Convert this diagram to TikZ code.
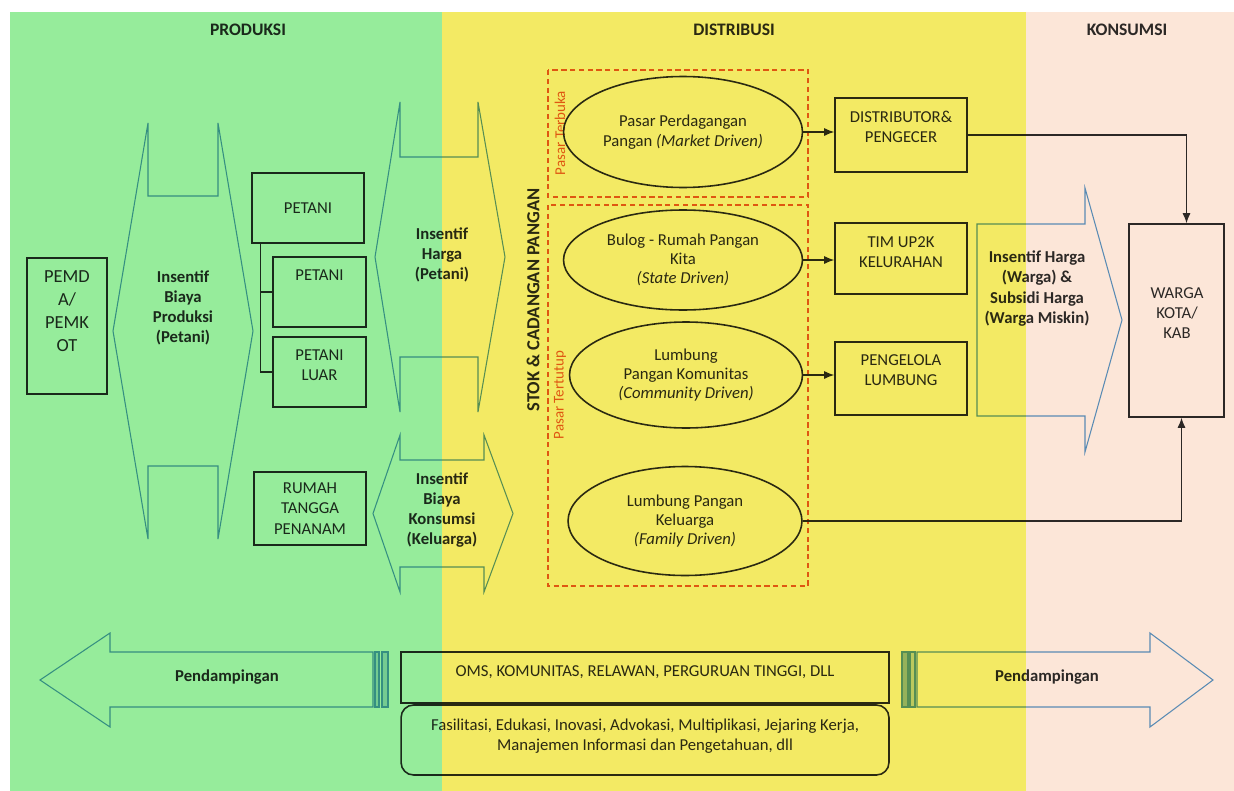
\documentclass[tikz,border=0pt]{standalone}
\usepackage{fontspec}
\setmainfont{Carlito}
\usetikzlibrary{shapes.geometric,arrows.meta,positioning}

\definecolor{bandgreen}{RGB}{150,236,155}
\definecolor{bandyellow}{RGB}{243,234,100}
\definecolor{bandpeach}{RGB}{252,230,216}
\definecolor{inkgray}{RGB}{45,45,45}
\definecolor{arrowblue}{RGB}{91,155,213}
\definecolor{pasarred}{RGB}{235,95,45}

\tikzset{
  box/.style={draw=inkgray, line width=0.9pt, inner sep=0pt, align=center,
    text=inkgray, font=\fontsize{9.5}{11.5}\selectfont},
  oval/.style={ellipse, draw=inkgray, line width=0.9pt, inner sep=0pt, align=center,
    text=inkgray, font=\fontsize{9.5}{11}\selectfont},
  lbl/.style={align=center, text=inkgray, font=\fontsize{9.5}{11.5}\selectfont},
  blbl/.style={align=center, text=inkgray, font=\fontsize{9.5}{11.5}\selectfont\bfseries},
  hdr/.style={text=inkgray, font=\fontsize{10}{12}\selectfont\bfseries},
  fat/.style={draw=arrowblue, line width=0.6pt, line join=miter},
  pasar/.style={draw=pasarred, densely dashed, line width=0.7pt},
  pasarlbl/.style={text=pasarred, font=\fontsize{8.5}{10}\selectfont, rotate=90},
  link/.style={draw=inkgray, line width=0.7pt},
  flow/.style={link, -{Latex[length=2mm,width=1.6mm]}},
}

\begin{document}
\begin{tikzpicture}[x=0.02cm, y=-0.02cm]
  \useasboundingbox (0,0) rectangle (1234,791);
  \fill[white] (0,0) rectangle (1234,791);

  % judul kolom
  \node[hdr] (hprod) at (248,30) {PRODUKSI};
  \node[hdr] (hdist) at (734,30) {DISTRIBUSI};
  \node[hdr] (hkons) at (1127,30) {KONSUMSI};

  % produksi
  \node[box, minimum width=1.6cm, minimum height=2.72cm] (pemda) at (67,326) {};
  \node[lbl, font=\fontsize{10.5}{13}\selectfont] (pemdatxt) at (67,311) {PEMD\\A/\\PEMK\\OT};

  \draw[fat] (113,331) -- (148,123) -- (148,196) -- (218,196) -- (218,123) -- (253,331)
    -- (218,539) -- (218,466) -- (148,466) -- (148,539) -- cycle;
  \node[blbl] (insprod) at (183,308) {Insentif\\Biaya\\Produksi\\(Petani)};

  \node[box, minimum width=2.24cm, minimum height=1.4cm] (petani1) at (308,208) {PETANI};
  \node[box, minimum width=1.86cm, minimum height=1.4cm] (petani2) at (319.5,292) {};
  \node[lbl] (petani2txt) at (319.5,275) {PETANI};
  \node[box, minimum width=1.86cm, minimum height=1.4cm] (petani3) at (319.5,372) {};
  \node[lbl] (petani3txt) at (319.5,365) {PETANI\\LUAR};
  \node[box, minimum width=2.24cm, minimum height=1.46cm] (rumah) at (310,508.5) {RUMAH\\TANGGA\\PENANAM};

  \coordinate (trunk) at ([xshift=0.18cm]petani1.south west);
  \draw[link] (trunk) |- (petani3.west);
  \draw[link] (trunk |- petani2.west) -- (petani2.west);

  % insentif harga dan konsumsi
  \draw[fat] (375,257) -- (400,102) -- (400,157) -- (478,157) -- (478,102) -- (505,257)
    -- (478,412) -- (478,357) -- (400,357) -- (400,412) -- cycle;
  \node[blbl] (insharga) at (442,255) {Insentif\\Harga\\(Petani)};
  \draw[fat] (373,513.5) -- (400,435) -- (400,460) -- (484,460) -- (484,435) -- (513,513.5)
    -- (484,592) -- (484,567) -- (400,567) -- (400,592) -- cycle;
  \node[blbl] (inskons) at (442,510) {Insentif\\Biaya\\Konsumsi\\(Keluarga)};

  \node[blbl, rotate=90, font=\fontsize{10.5}{12}\selectfont\bfseries] (stok) at (533,300) {STOK \& CADANGAN PANGAN};

  % distribusi
  \draw[pasar] (548,70) rectangle (808,197);
  \draw[pasar] (548,205) rectangle (808,586);
  \node[pasarlbl] (terbuka) at (560,133) {Pasar Terbuka};
  \node[pasarlbl] (tertutup) at (560,395) {Pasar Tertutup};

  \node[oval, minimum width=4.78cm, minimum height=2.22cm] (pasar) at (683,132)
    {Pasar Perdagangan\\Pangan \textit{(Market Driven)}};
  \node[oval, minimum width=4.78cm, minimum height=2cm] (bulog) at (683,260)
    {Bulog - Rumah Pangan\\Kita\\\textit{(State Driven)}};
  \node[oval, minimum width=4.66cm, minimum height=2.12cm] (lkom) at (686,375)
    {Lumbung\\Pangan Komunitas\\\textit{(Community Driven)}};
  \node[oval, minimum width=4.68cm, minimum height=2.18cm] (lkel) at (685,521)
    {Lumbung Pangan\\Keluarga\\\textit{(Family Driven)}};

  \node[box, minimum width=2.64cm, minimum height=1.48cm] (dist) at (901,135) {};
  \node[lbl] (disttxt) at (901,127) {DISTRIBUTOR\&\\PENGECER};
  \node[box, minimum width=2.64cm, minimum height=1.42cm] (tim) at (901,258.5) {};
  \node[lbl] (timtxt) at (901,252) {TIM UP2K\\KELURAHAN};
  \node[box, minimum width=2.64cm, minimum height=1.46cm] (kelola) at (901,378.5) {};
  \node[lbl] (kelolatxt) at (901,370) {PENGELOLA\\LUMBUNG};

  \draw[flow] (pasar.east) -- (pasar.east -| dist.west);
  \draw[flow] (bulog.east) -- (bulog.east -| tim.west);
  \draw[flow] (lkom.east) -- (lkom.east -| kelola.west);

  % konsumsi
  \draw[fat] (977,224) -- (1085,224) -- (1085,188) -- (1122,320) -- (1085,452)
    -- (1085,416) -- (977,416) -- cycle;
  \node[blbl] (inswarga) at (1037,288.5) {Insentif Harga\\(Warga) \&\\Subsidi Harga\\(Warga Miskin)};

  \node[box, minimum width=1.9cm, minimum height=3.86cm] (warga) at (1176.5,320.5) {};
  \node[lbl] (wargatxt) at (1177,313) {WARGA\\KOTA/\\KAB};

  \draw[flow] (dist.east) -| ([xshift=0.2cm]warga.north);
  \draw[flow] (lkel.east) -| ([xshift=0.1cm]warga.south);

  % pendampingan
  \draw[fat] (40,680) -- (110,633) -- (110,652) -- (373,652) -- (373,707) -- (110,707)
    -- (110,727) -- cycle;
  \draw[fat, fill=arrowblue!35] (375,652) rectangle (379,707);
  \draw[fat, fill=arrowblue!35] (382,652) rectangle (388,707);
  \node[blbl] (pendkiri) at (227,677) {Pendampingan};

  \node[box, minimum width=9.76cm, minimum height=1.02cm] (oms) at (645,677.5) {};
  \node[lbl] (omstxt) at (645,672) {OMS, KOMUNITAS, RELAWAN, PERGURUAN TINGGI, DLL};
  \node[box, rounded corners=0.25cm, minimum width=9.76cm, minimum height=1.4cm] (fasil) at (645,740) {};
  \node[lbl] (fasiltxt) at (645,736) {Fasilitasi, Edukasi, Inovasi, Advokasi, Multiplikasi, Jejaring Kerja,\\Manajemen Informasi dan Pengetahuan, dll};

  \draw[fat, fill=arrowblue!60] (902,652) rectangle (908,707);
  \draw[fat, fill=arrowblue!35] (910,652) rectangle (915,707);
  \draw[fat] (917,652) -- (1150,652) -- (1150,633) -- (1213,680) -- (1150,727) -- (1150,707)
    -- (917,707) -- cycle;
  \node[blbl] (pendkanan) at (1047,677) {Pendampingan};

  % latar kolom
  \begin{scope}[blend mode=multiply]
    \fill[bandgreen] (10,12) rectangle (442,791);
    \fill[bandyellow] (442,12) rectangle (1026,791);
    \fill[bandpeach] (1026,12) rectangle (1234,791);
  \end{scope}
\end{tikzpicture}
\end{document}
